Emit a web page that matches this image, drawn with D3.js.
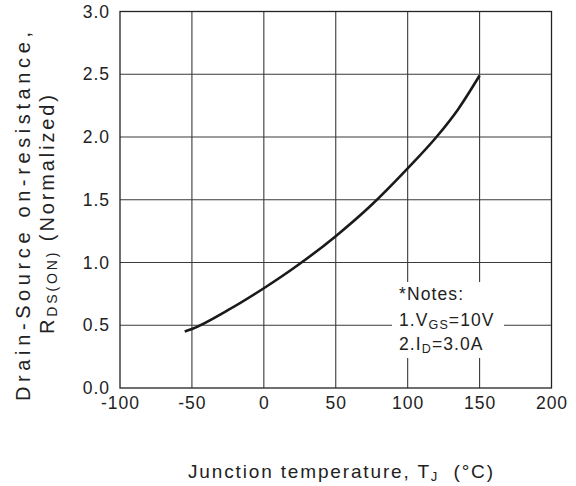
<!DOCTYPE html>
<html>
<head>
<meta charset="utf-8">
<script src="https://cdn.jsdelivr.net/npm/d3@7"></script>
<style>
  html, body { margin: 0; padding: 0; background: #fff; }
  text { font-family: "Liberation Sans", Arial, sans-serif; fill: #222; }
</style>
</head>
<body>
<svg id="chart" width="576" height="486"></svg>
<script>
// Normalized on-resistance vs junction temperature
const tempC = [-55, -50, -25, 0, 25, 50, 75, 100, 120, 135, 150];
const rdsNorm = [0.45, 0.47, 0.62, 0.795, 0.99, 1.21, 1.46, 1.75, 2.0, 2.22, 2.49];
const xTicks = [-100, -50, 0, 50, 100, 150, 200];
const yTicks = [0.0, 0.5, 1.0, 1.5, 2.0, 2.5, 3.0];

const plot = { left: 120, right: 551.5, top: 11.5, bottom: 388 };

const svg = d3.select("#chart");
const x = d3.scaleLinear().domain([-100, 200]).range([plot.left, plot.right]);
const y = d3.scaleLinear().domain([0, 3]).range([plot.bottom, plot.top]);

// grid
const grid = svg.append("g").attr("stroke", "#3a3a3a").attr("stroke-width", 1.1);
grid.selectAll("line.v").data(xTicks.slice(1, -1)).join("line")
  .attr("x1", d => x(d)).attr("x2", d => x(d))
  .attr("y1", plot.top).attr("y2", plot.bottom);
grid.selectAll("line.h").data(yTicks.slice(1, -1)).join("line")
  .attr("x1", plot.left).attr("x2", plot.right)
  .attr("y1", d => y(d)).attr("y2", d => y(d));

// frame
svg.append("rect")
  .attr("x", plot.left).attr("y", plot.top)
  .attr("width", plot.right - plot.left).attr("height", plot.bottom - plot.top)
  .attr("fill", "none").attr("stroke", "#222").attr("stroke-width", 1.3);

// tick labels (text only, no tick marks)
const xAxis = svg.append("g")
  .attr("transform", `translate(0,${plot.bottom})`)
  .call(d3.axisBottom(x).tickValues(xTicks).tickSize(0).tickPadding(9).tickFormat(d => String(d)));
xAxis.select(".domain").remove();
xAxis.selectAll("text")
  .style("font-size", "17.5px").style("letter-spacing", "1px")
  .style("font-family", "'Liberation Sans', Arial, sans-serif").attr("fill", "#222");

const yAxis = svg.append("g")
  .attr("transform", `translate(${plot.left},0)`)
  .call(d3.axisLeft(y).tickValues(yTicks).tickSize(0).tickPadding(10).tickFormat(d3.format(".1f")));
yAxis.select(".domain").remove();
yAxis.selectAll("text")
  .style("font-size", "17.5px").style("letter-spacing", "1px")
  .style("font-family", "'Liberation Sans', Arial, sans-serif").attr("fill", "#222");

// curve
const line = d3.line().x((d, i) => x(tempC[i])).y(d => y(d)).curve(d3.curveMonotoneX);
svg.append("path")
  .datum(rdsNorm)
  .attr("d", line)
  .attr("fill", "none").attr("stroke", "#1a1a1a").attr("stroke-width", 2.6);

// notes box
const notes = svg.append("g");
notes.append("rect")
  .attr("x", 392).attr("y", 282).attr("width", 112).attr("height", 76)
  .attr("fill", "#fff");
const nt = notes.append("g").style("font-size", "17.5px").style("letter-spacing", "1.1px");
nt.append("text").attr("x", 399).attr("y", 300).text("*Notes:");
const n1 = nt.append("text").attr("x", 399).attr("y", 326);
n1.append("tspan").text("1.V");
n1.append("tspan").attr("dy", 3).style("font-size", "12.5px").text("GS");
n1.append("tspan").attr("dy", -3).text("=10V");
const n2 = nt.append("text").attr("x", 399).attr("y", 350);
n2.append("tspan").text("2.I");
n2.append("tspan").attr("dy", 3).style("font-size", "12.5px").text("D");
n2.append("tspan").attr("dy", -3).text("=3.0A");

// x title
const xt = svg.append("text")
  .attr("x", 188).attr("y", 478)
  .attr("textLength", 305).attr("lengthAdjust", "spacing")
  .style("font-size", "19px");
xt.append("tspan").text("Junction temperature, T");
xt.append("tspan").attr("dy", 3).style("font-size", "13px").text("J");
xt.append("tspan").attr("dy", -3).text("\u00a0\u00a0(°C)");

// y title (two lines)
const yt = svg.append("g").attr("transform", "translate(30,0) rotate(-90)");
yt.append("text").attr("x", -401).attr("y", 0)
  .attr("textLength", 369).attr("lengthAdjust", "spacing")
  .style("font-size", "20px")
  .text("Drain-Source on-resistance,");
const yt2 = yt.append("text").attr("x", -334).attr("y", 24)
  .attr("textLength", 239).attr("lengthAdjust", "spacing")
  .style("font-size", "20px");
yt2.append("tspan").text("R");
yt2.append("tspan").attr("dy", 3).style("font-size", "14px").text("DS(ON)");
yt2.append("tspan").attr("dy", -3).text(" (Normalized)");
</script>
</body>
</html>
